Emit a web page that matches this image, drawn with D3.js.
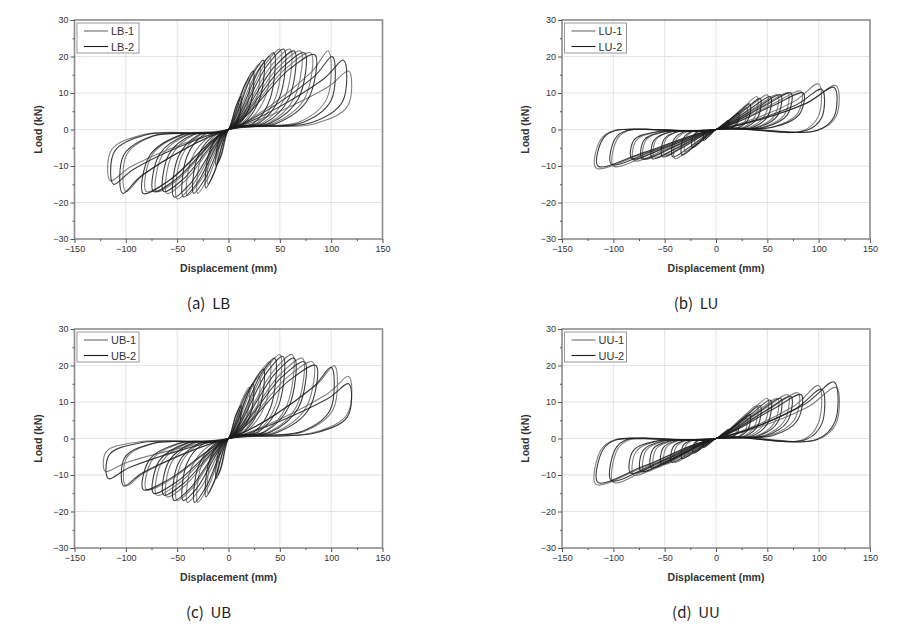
<!DOCTYPE html>
<html><head><meta charset="utf-8">
<script src="https://cdn.jsdelivr.net/npm/d3@7"></script>
<style>body{margin:0;background:#fff} svg{display:block}</style>
</head><body>
<svg id="chart" width="920" height="638"></svg>
<script>
// ---------- data ----------
const xTicks = [-150,-100,-50,0,50,100,150];
const yTicks = [-30,-20,-10,0,10,20,30];
const xMinor = [-125,-75,-25,25,75,125];
const yMinor = [-25,-15,-5,5,15,25];
const xTitle = "Displacement (mm)";
const yTitle = "Load (kN)";
const panelLetters = ["(a)","(b)","(c)","(d)"];
const panelNames = ["LB","LU","UB","UU"];
const seriesNames = [["LB-1","LB-2"],["LU-1","LU-2"],["UB-1","UB-2"],["UU-1","UU-2"]];

// each loop: key points (displacement mm, load kN):
// origin, loading, +peak, unloading knee, return, origin, loading, -peak, unloading knee, return
const LB1 = [
[0,0,6.5,5.3,10,7,9,3.2,4.5,0.7,0,0,-6.5,-6.8,-10,-9,-9,-4,-4.5,-0.9],
[0,0,13,10.5,20,14,18,6.3,9,1.4,0,0,-13,-11.3,-20,-15,-18,-6.8,-9,-1.5],
[0,0,19.5,13.5,30,18,27,8.1,13.5,1.8,0,0,-19.5,-13.1,-30,-17.5,-27,-7.9,-13.5,-1.8],
[0,0,26,15,40,20,36,9,18,2,0,0,-26,-13.5,-40,-18,-36,-8.1,-18,-1.8],
[0,0,35,17.6,50,22,46,8.8,27.5,1.8,0,0,-35,-15.2,-50,-19,-46,-7.6,-27.5,-1.5],
[0,0,42,17.6,60,22,55,8.8,33,1.8,0,0,-42,-14,-60,-17.5,-55,-7,-33,-1.4],
[0,0,49,17.2,70,21.5,64,8.6,38.5,1.7,0,0,-49,-13.6,-70,-17,-64,-6.8,-38.5,-1.4],
[0,0,56,16.8,80,21,74,8.4,44,1.7,0,0,-56,-13.6,-80,-17,-74,-6.8,-44,-1.4],
[0,0,80,15.5,97,21.5,96,8.6,70,2.2,0,0,-82,-12.2,-100,-17,-99,-6.8,-72,-1.7],
[0,0,96,11.5,117,16,116,6.4,84,1.6,0,0,-94,-10,-115,-14,-114,-5.6,-83,-1.4]
];
const LB2 = [
[0,0,7.8,6.8,12,9,10.8,4,5.4,0.9,0,0,-7.8,-7.5,-12,-10,-10.8,-4.5,-5.4,-1],
[0,0,15.6,12,24,16,21.6,7.2,10.8,1.6,0,0,-14.3,-12,-22,-16,-19.8,-7.2,-9.9,-1.6],
[0,0,22,14.3,34,19,30.6,8.6,15.3,1.9,0,0,-22,-13.1,-34,-17.5,-30.6,-7.9,-15.3,-1.8],
[0,0,30.8,16.8,44,21,40.5,8.4,24.2,1.7,0,0,-30.8,-14.8,-44,-18.5,-40.5,-7.4,-24.2,-1.5],
[0,0,37.8,17.6,54,22,49.7,8.8,29.7,1.8,0,0,-37.1,-14.8,-53,-18.5,-48.8,-7.4,-29.2,-1.5],
[0,0,44.8,17.2,64,21.5,58.9,8.6,35.2,1.7,0,0,-44.1,-13.6,-63,-17,-58,-6.8,-34.7,-1.4],
[0,0,51.8,16.8,74,21,68,8.4,40.7,1.7,0,0,-51.1,-13.6,-73,-17,-67.2,-6.8,-40.2,-1.4],
[0,0,58.8,16.4,84,20.5,77.3,8.2,46.2,1.6,0,0,-58.1,-14,-83,-17.5,-76.4,-7,-45.7,-1.4],
[0,0,83,14.4,101,20,100,8,73,2,0,0,-84.5,-12.6,-103,-17.5,-102,-7,-74,-1.8],
[0,0,92,13.7,112,19,111,7.6,81,1.9,0,0,-92,-10.8,-112,-15,-111,-6,-81,-1.5]
];
const LU1 = [
[0,0,6.5,1.3,10,2,9.5,0.8,6.5,0.1,0,0,-6,-1.6,-10,-2.5,-9.7,-0.9,-7,-0.2],
[0,0,13,2.6,20,4,19,1.6,13,0.2,0,0,-12,-2.5,-20,-4,-19.4,-1.4,-14,-0.3],
[0,0,19.5,3.9,30,6,28.5,2.4,19.5,0.4,0,0,-18,-3.7,-30,-6,-29,-2.1,-21,-0.4],
[0,0,26,5.9,40,9,38,3.6,26,0.5,0,0,-24,-5,-40,-8,-38.8,-2.8,-28,-0.6],
[0,0,32.5,6.2,50,9.5,47.5,3.8,32.5,0.6,0,0,-30,-4.3,-50,-7,-48.5,-2.5,-35,-0.5],
[0,0,39,6.2,60,9.5,57,3.8,39,0.6,0,0,-36,-4.7,-60,-7.5,-58,-2.6,-42,-0.5],
[0,0,45.5,6.5,70,10,66.5,4,45.5,0.6,0,0,-42,-5,-70,-8,-68,-2.8,-49,-0.6],
[0,0,54,6.8,83,10.5,79,4.2,54,0.6,0,0,-48,-5.3,-80,-8.5,-77.6,-3,-56,-0.6],
[0,0,75,7.5,100,12.5,100,3.8,85,-0.3,0,0,-60,-6.2,-100,-10,-96,-2.5,-85,-0.3],
[0,0,88,7.2,117,12,117,3.6,99,-0.3,0,0,-70,-6.5,-117,-10.5,-112,-2.6,-99,-0.3]
];
const LU2 = [
[0,0,7.8,1.6,12,2.5,11.4,1,7.8,0.15,0,0,-7.2,-1.9,-12,-3,-11.6,-1,-8.4,-0.2],
[0,0,14.3,2.9,22,4.5,20.9,1.8,14.3,0.3,0,0,-13.8,-3.1,-23,-5,-22.3,-1.8,-16.1,-0.35],
[0,0,21.5,4.6,33,7,31.4,2.8,21.5,0.4,0,0,-19.8,-4.3,-33,-7,-32,-2.5,-23.1,-0.5],
[0,0,28,5.5,43,8.5,40.9,3.4,28,0.5,0,0,-25.2,-4.7,-42,-7.5,-40.7,-2.6,-29.4,-0.5],
[0,0,34.5,5.9,53,9,50.4,3.6,34.5,0.5,0,0,-31.2,-4.7,-52,-7.5,-50.4,-2.6,-36.4,-0.5],
[0,0,41,6.2,63,9.5,59.9,3.8,41,0.6,0,0,-37.2,-5,-62,-8,-60.1,-2.8,-43.4,-0.6],
[0,0,47.5,6.5,73,10,69.4,4,47.5,0.6,0,0,-43.2,-5,-72,-8,-69.8,-2.8,-50.4,-0.6],
[0,0,55.3,6.5,85,10,80.8,4,55.3,0.6,0,0,-49.2,-5,-82,-8,-79.5,-2.8,-57.4,-0.6],
[0,0,77,6.6,103,11,103,3.3,87.6,-0.3,0,0,-61.2,-5.9,-102,-9.5,-98,-2.4,-86.7,-0.3],
[0,0,86,6.9,115,11.5,115,3.5,97.8,-0.3,0,0,-69,-6.2,-115,-10,-110,-2.5,-97.8,-0.3]
];
const UB1 = [
[0,0,6.5,6,10,8,9,3.6,4.5,0.8,0,0,-6.5,-7.5,-10,-10,-9,-4.5,-4.5,-1],
[0,0,13,10.5,20,14,18,6.3,9,1.4,0,0,-13,-11.3,-20,-15,-18,-6.8,-9,-1.5],
[0,0,19.5,12.8,30,17,27,7.7,13.5,1.7,0,0,-19.5,-13.1,-30,-17.5,-27,-7.9,-13.5,-1.8],
[0,0,26,15.8,40,21,36,9.5,18,2.1,0,0,-26,-13.1,-40,-17.5,-36,-7.9,-18,-1.8],
[0,0,35,18.4,50,23,46,9.2,27.5,1.8,0,0,-35,-13.6,-50,-17,-46,-6.8,-27.5,-1.4],
[0,0,43.4,18.4,62,23,57,9.2,34.1,1.8,0,0,-42,-12.8,-60,-16,-55.2,-6.4,-33,-1.3],
[0,0,50.4,17.6,72,22,66.2,8.8,39.6,1.8,0,0,-49,-12.4,-70,-15.5,-64.4,-6.2,-38.5,-1.2],
[0,0,57.4,16.8,82,21,75.4,8.4,45.1,1.7,0,0,-56,-11.2,-80,-14,-73.6,-5.6,-44,-1.1],
[0,0,84.5,14.4,103,20,102,8,74.2,2,0,0,-82,-9.4,-100,-13,-99,-5.2,-72,-1.3],
[0,0,96,12.2,117,17,116,6.8,84,1.7,0,0,-98.4,-6.5,-120,-9,-119,-3.6,-86.4,-0.9]
];
const UB2 = [
[0,0,7.8,6.8,12,9,10.8,4,5.4,0.9,0,0,-7.8,-8.3,-12,-11,-10.8,-5,-5.4,-1.1],
[0,0,15.6,11.3,24,15,21.6,6.8,10.8,1.5,0,0,-14.3,-12,-22,-16,-19.8,-7.2,-9.9,-1.6],
[0,0,22.1,14.3,34,19,30.6,8.6,15.3,1.9,0,0,-21.5,-13.1,-33,-17.5,-29.7,-7.9,-14.9,-1.8],
[0,0,31.5,17.6,45,22,41.4,8.8,24.8,1.8,0,0,-30.8,-13.6,-44,-17,-40.5,-6.8,-24.2,-1.4],
[0,0,37.1,18,53,22.5,48.8,9,29.2,1.8,0,0,-37.1,-13.6,-53,-17,-48.8,-6.8,-29.2,-1.4],
[0,0,44.8,17.6,64,22,58.9,8.8,35.2,1.8,0,0,-44.1,-12.4,-63,-15.5,-58,-6.2,-34.7,-1.2],
[0,0,51.8,16.8,74,21,68.1,8.4,40.7,1.7,0,0,-51.1,-12,-73,-15,-67.2,-6,-40.2,-1.2],
[0,0,59.5,16,85,20,78.2,8,46.8,1.6,0,0,-58.1,-11.2,-83,-14,-76.4,-5.6,-45.7,-1.1],
[0,0,82,14,100,19.5,99,7.8,72,2,0,0,-83.6,-9.4,-102,-13,-101,-5.2,-73.4,-1.3],
[0,0,96,10.8,117,15,116,6,84,1.5,0,0,-96,-7.9,-117,-11,-116,-4.4,-84,-1.1]
];
const UU1 = [
[0,0,6.5,1.3,10,2,9.5,0.8,6.5,0.1,0,0,-6,-1.2,-10,-2,-9.7,-0.7,-7,-0.1],
[0,0,13,2.3,20,3.5,19,1.4,13,0.2,0,0,-12,-2.2,-20,-3.5,-19.4,-1.2,-14,-0.2],
[0,0,19.5,3.6,30,5.5,28.5,2.2,19.5,0.3,0,0,-18,-3.1,-30,-5,-29.1,-1.8,-21,-0.4],
[0,0,26,5.9,40,9,38,3.6,26,0.5,0,0,-24,-4,-40,-6.5,-38.8,-2.3,-28,-0.5],
[0,0,32.5,7.2,50,11,47.5,4.4,32.5,0.7,0,0,-30,-4.3,-50,-7,-48.5,-2.5,-35,-0.5],
[0,0,39,7.2,60,11,57,4.4,39,0.7,0,0,-36,-5,-60,-8,-58.2,-2.8,-42,-0.6],
[0,0,45.5,7.8,70,12,66.5,4.8,45.5,0.7,0,0,-42,-5.6,-70,-9,-67.9,-3.2,-49,-0.6],
[0,0,52,8.1,80,12.5,76,5,52,0.8,0,0,-48,-6.2,-80,-10,-77.6,-3.5,-56,-0.7],
[0,0,75,8.7,100,14.5,100,4.4,85,-0.3,0,0,-60,-7.4,-100,-12,-96,-3,-85,-0.4],
[0,0,88,8.4,117,14,117,4.2,99,-0.3,0,0,-70,-7.8,-117,-12.5,-112,-3.1,-99,-0.4]
];
const UU2 = [
[0,0,7.8,1.6,12,2.5,11.4,1,7.8,0.15,0,0,-7.2,-1.6,-12,-2.5,-11.6,-0.9,-8.4,-0.2],
[0,0,14.3,2.6,22,4,20.9,1.6,14.3,0.24,0,0,-13.2,-2.5,-22,-4,-21.3,-1.4,-15.4,-0.3],
[0,0,21.5,4.2,33,6.5,31.4,2.6,21.5,0.4,0,0,-19.8,-3.4,-33,-5.5,-32,-1.9,-23.1,-0.4],
[0,0,28,5.9,43,9,40.9,3.6,28,0.5,0,0,-25.8,-4,-43,-6.5,-41.7,-2.3,-30.1,-0.5],
[0,0,34.5,6.8,53,10.5,50.4,4.2,34.5,0.6,0,0,-31.8,-4.3,-53,-7,-51.4,-2.5,-37.1,-0.5],
[0,0,41,7.2,63,11,59.9,4.4,41,0.7,0,0,-37.8,-5,-63,-8,-61.1,-2.8,-44.1,-0.6],
[0,0,47.5,7.5,73,11.5,69.4,4.6,47.5,0.7,0,0,-43.8,-5.6,-73,-9,-70.8,-3.2,-51.1,-0.6],
[0,0,54,7.8,83,12,78.9,4.8,54,0.7,0,0,-49.8,-5.9,-83,-9.5,-80.5,-3.3,-58.1,-0.7],
[0,0,77,8.1,103,13.5,103,4,87.6,-0.3,0,0,-61.2,-7.1,-102,-11.5,-98,-2.9,-86.7,-0.3],
[0,0,86,9.3,115,15.5,116,4.7,97.8,-0.3,0,0,-69,-7.4,-115,-12,-110,-3,-97.8,-0.4]
];
const panelSeries = [[LB1,LB2],[LU1,LU2],[UB1,UB2],[UU1,UU2]];

// ---------- layout ----------
const svg = d3.select("#chart");
const W = 308, H = 219;
const origins = [[74.5,20],[562,20],[74.5,329],[562,329]];
const captionY = [309,309,618,618];
const seriesColor = ["#6a6a6a","#1c1c1c"];
const fontSans = "'Liberation Sans', Arial, sans-serif";

const x = d3.scaleLinear().domain([-150,150]).range([0,W]);
const y = d3.scaleLinear().domain([-30,30]).range([H,0]);
const line = d3.line().x(d=>x(d[0])).y(d=>y(d[1])).curve(d3.curveCatmullRomClosed.alpha(0.5));
const toPairs = a => d3.range(0, a.length, 2).map(i => [a[i], a[i+1]]);

panelSeries.forEach((series, p) => {
  const [ox, oy] = origins[p];
  const g = svg.append("g").attr("transform", `translate(${ox},${oy})`);

  // clip
  g.append("clipPath").attr("id","clip"+p).append("rect").attr("width",W).attr("height",H);

  // grid
  g.append("g").selectAll("line").data(xTicks.slice(1,-1)).join("line")
    .attr("x1",d=>x(d)).attr("x2",d=>x(d)).attr("y1",0).attr("y2",H)
    .attr("stroke","#e4e4e4").attr("stroke-width",1);
  g.append("g").selectAll("line").data(yTicks.slice(1,-1)).join("line")
    .attr("y1",d=>y(d)).attr("y2",d=>y(d)).attr("x1",0).attr("x2",W)
    .attr("stroke","#e4e4e4").attr("stroke-width",1);

  // loops
  const lg = g.append("g").attr("clip-path",`url(#clip${p})`);
  series.forEach((loops, s) => {
    lg.append("g").selectAll("path").data(loops).join("path")
      .attr("d", d => line(toPairs(d)))
      .attr("fill","none").attr("stroke",seriesColor[s]).attr("stroke-width",1.1)
      .attr("stroke-opacity",0.85);
  });

  // frame
  g.append("rect").attr("width",W).attr("height",H).attr("fill","none")
    .attr("stroke","#8c8c8c").attr("stroke-width",1.6);

  // axes
  const styleAxis = sel => {
    sel.select(".domain").remove();
    sel.selectAll(".tick line").attr("stroke","#555");
    sel.selectAll(".tick text").attr("fill","#333").style("font-family",fontSans).style("font-size","9px");
  };
  g.append("g").attr("transform",`translate(0,${H})`)
    .call(d3.axisBottom(x).tickValues(xTicks).tickSize(4).tickPadding(3)).call(styleAxis);
  g.append("g").attr("transform",`translate(0,${H})`)
    .call(d3.axisBottom(x).tickValues(xMinor).tickSize(2).tickFormat("")).call(styleAxis);
  g.append("g")
    .call(d3.axisLeft(y).tickValues(yTicks).tickSize(4).tickPadding(2)).call(styleAxis);
  g.append("g")
    .call(d3.axisLeft(y).tickValues(yMinor).tickSize(2).tickFormat("")).call(styleAxis);

  // axis titles
  g.append("text").attr("x",W/2).attr("y",H+33).attr("text-anchor","middle")
    .style("font-family",fontSans).style("font-size","10.5px").style("font-weight","bold")
    .attr("fill","#333").text(xTitle);
  g.append("text").attr("transform",`translate(-33,${H/2}) rotate(-90)`).attr("text-anchor","middle")
    .style("font-family",fontSans).style("font-size","10.5px").style("font-weight","bold")
    .attr("fill","#333").text(yTitle);

  // legend
  const leg = g.append("g").attr("transform","translate(2.5,3)");
  leg.append("rect").attr("width",62).attr("height",30).attr("fill","#fff")
    .attr("stroke","#999").attr("stroke-width",1);
  seriesNames[p].forEach((nm, i) => {
    const ly = 8 + i*15.5;
    leg.append("line").attr("x1",7).attr("x2",31).attr("y1",ly).attr("y2",ly)
      .attr("stroke",seriesColor[i]).attr("stroke-width",1.1);
    leg.append("text").attr("x",34).attr("y",ly+4).attr("fill","#333")
      .style("font-family",fontSans).style("font-size","11px").text(nm);
  });

  // caption
  svg.append("text").attr("x",ox + W/2 - 20).attr("y",captionY[p])
    .attr("text-anchor","middle").attr("fill","#222")
    .style("font-family","'Noto Sans CJK KR', sans-serif").style("font-size","15px")
    .style("white-space","pre").text(panelLetters[p] + "  " + panelNames[p]);
});
</script>
</body></html>
